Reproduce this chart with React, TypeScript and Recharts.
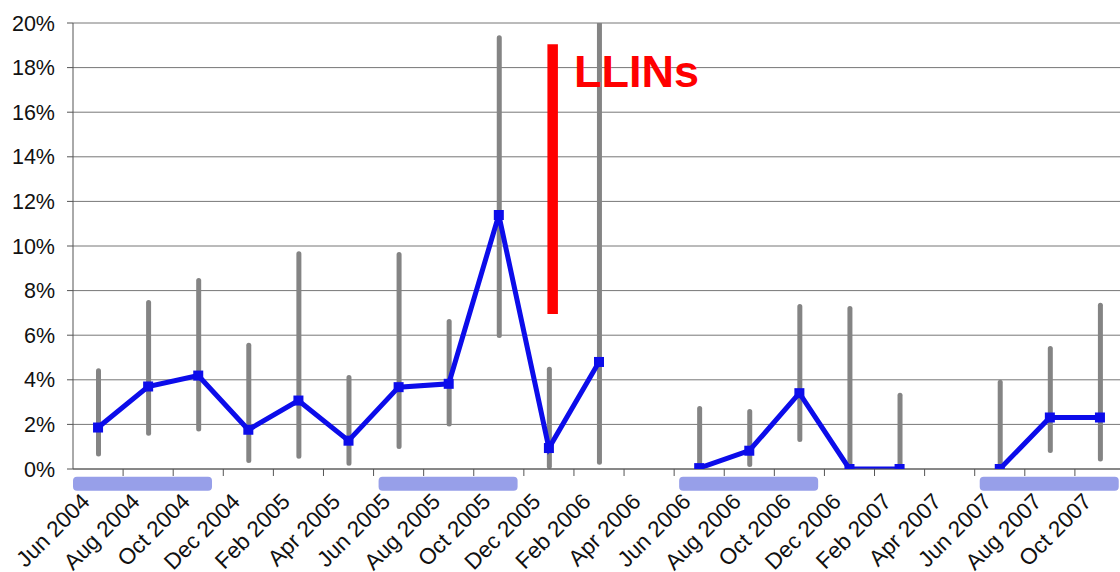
import React from "react";
import {
  ComposedChart,
  Bar,
  Line,
  XAxis,
  YAxis,
  CartesianGrid,
  ReferenceArea,
  ReferenceLine,
  ReferenceDot,
  Rectangle,
} from "recharts";

// ---- data ----
const months = [
  "Jun 2004", "Aug 2004", "Oct 2004", "Dec 2004", "Feb 2005", "Apr 2005",
  "Jun 2005", "Aug 2005", "Oct 2005", "Dec 2005", "Feb 2006", "Apr 2006",
  "Jun 2006", "Aug 2006", "Oct 2006", "Dec 2006", "Feb 2007", "Apr 2007",
  "Jun 2007", "Aug 2007", "Oct 2007",
];

// centre of each two-month period, in months counted from the start of June 2004
const monthCentre = [
  1, 3, 5, 7, 9, 11, 13, 15, 17, 19, 21, 23, 25, 27, 29, 31, 33, 35, 37, 39, 41,
];

const prevalence: (number | null)[] = [
  1.86, 3.7, 4.19, 1.76, 3.07, 1.27,
  3.67, 3.82, 11.39, 0.94, 4.8, null,
  0.04, 0.82, 3.4, 0, 0, null,
  0, 2.31, 2.31,
];

const ciLow: (number | null)[] = [
  0.56, 1.49, 1.68, 0.27, 0.46, 0.15,
  0.9, 1.91, 5.88, 0, 0.19, null,
  0, 0.09, 1.21, 0, 0, null,
  0, 0.72, 0.34,
];

const ciHigh: (number | null)[] = [
  4.52, 7.58, 8.57, 5.66, 9.77, 4.22,
  9.73, 6.73, 19.45, 4.58, 20.17, null,
  2.83, 2.69, 7.4, 7.31, 3.42, null,
  4.0, 5.52, 7.45,
];

const yTicks = [0, 2, 4, 6, 8, 10, 12, 14, 16, 18, 20];

// seasons, in months counted from the start of June 2004
const seasonStart = [0, 12.2, 24.2, 36.2];
const seasonEnd = [5.55, 17.75, 29.75, 41.75];

// LLINs distribution (months from start of June 2004) and bar extent (%)
const llinsMonth = 19.15;
const llinsBarLow = 6.95;
const llinsBarHigh = 19.05;
const llinsText = "LLINs";
const llinsTextMonth = 20.0;
const llinsTextY = 17.12;

// ---- layout ----
const CHART_W = 1130;
const CHART_H = 572;
const Y_AXIS_W = 73;
const MARGIN = { top: 23, right: 5, left: 0, bottom: 0 };
const PLOT_W = CHART_W - Y_AXIS_W - MARGIN.left - MARGIN.right;
const BAND = PLOT_W / months.length;
const FONT = "'Liberation Sans', Arial, Helvetica, sans-serif";

const data = months.map((m, i) => ({
  month: m,
  mo: monthCentre[i],
  prev: prevalence[i],
  ci: ciLow[i] === null || ciHigh[i] === null ? null : [ciLow[i], ciHigh[i]],
}));

const MonthTick = (props: any) => {
  const { x, y, payload } = props;
  const idx = payload?.index ?? props.index;
  const ax = x - 7;
  const ay = y + 34;
  return (
    <g>
      {idx > 0 && (
        <line x1={x - BAND / 2} x2={x - BAND / 2} y1={y} y2={y + 7} stroke="#555" strokeWidth={1} />
      )}
      <text
        x={ax}
        y={ay}
        textAnchor="end"
        transform={`rotate(-45 ${ax} ${ay})`}
        fontSize={22.5}
        fontFamily={FONT}
        fill="#111"
      >
        {payload.value}
      </text>
    </g>
  );
};

const SquareDot = (props: any) => {
  const { cx, cy, value } = props;
  if (value === null || value === undefined || cx == null || cy == null) return null;
  return <rect x={cx - 5} y={cy - 5} width={10} height={10} fill="#0c0cea" />;
};

export default function App() {
  return (
    <div
      style={{
        position: "fixed",
        left: 0,
        top: 0,
        width: 1120,
        height: 572,
        overflow: "hidden",
        background: "#fff",
      }}
    >
      <ComposedChart
        width={CHART_W}
        height={CHART_H}
        data={data}
        margin={MARGIN}
        style={{ fontFamily: FONT }}
      >
        <CartesianGrid vertical={false} stroke="#777" strokeWidth={1} />
        <XAxis
          dataKey="month"
          interval={0}
          height={103}
          tickSize={0}
          tickMargin={0}
          tickLine={false}
          axisLine={{ stroke: "#555" }}
          tick={<MonthTick />}
        />
        <XAxis xAxisId="m" dataKey="mo" type="number" domain={[0, 42]} allowDataOverflow hide />
        <YAxis
          width={Y_AXIS_W}
          domain={[0, 20]}
          ticks={yTicks}
          allowDataOverflow
          interval={0}
          tickFormatter={(v: number) => `${v}%`}
          tickSize={6}
          tickMargin={12}
          axisLine={{ stroke: "#555" }}
          tickLine={{ stroke: "#555" }}
          tick={{ fill: "#111", fontSize: 21.5, fontFamily: FONT }}
        />
        {seasonStart.map((s, i) => (
          <ReferenceArea
            key={`season-${i}`}
            xAxisId="m"
            x1={s}
            x2={seasonEnd[i]}
            y1={-0.97}
            y2={-0.35}
            ifOverflow="visible"
            fill="#979fe9"
            fillOpacity={1}
            stroke="none"
            shape={(p: any) => <Rectangle {...p} radius={4} fill="#979fe9" fillOpacity={1} />}
          />
        ))}
        <Bar
          dataKey="ci"
          barSize={5}
          fill="#848484"
          radius={2.5}
          isAnimationActive={false}
        />
        <Line
          type="linear"
          dataKey="prev"
          stroke="#0c0cea"
          strokeWidth={5}
          dot={<SquareDot />}
          activeDot={false}
          connectNulls={false}
          isAnimationActive={false}
        />
        <ReferenceLine
          xAxisId="m"
          segment={[
            { x: llinsMonth, y: llinsBarLow },
            { x: llinsMonth, y: llinsBarHigh },
          ]}
          stroke="#ff0000"
          strokeWidth={10.5}
          ifOverflow="visible"
        />
        <ReferenceDot
          xAxisId="m"
          x={llinsTextMonth}
          y={llinsTextY}
          r={0}
          ifOverflow="visible"
          shape={(p: any) => (
            <text
              x={p.cx}
              y={p.cy}
              fill="#ff0000"
              fontSize={45}
              fontWeight="bold"
              fontFamily={FONT}
              textAnchor="start"
            >
              {llinsText}
            </text>
          )}
        />
      </ComposedChart>
    </div>
  );
}
